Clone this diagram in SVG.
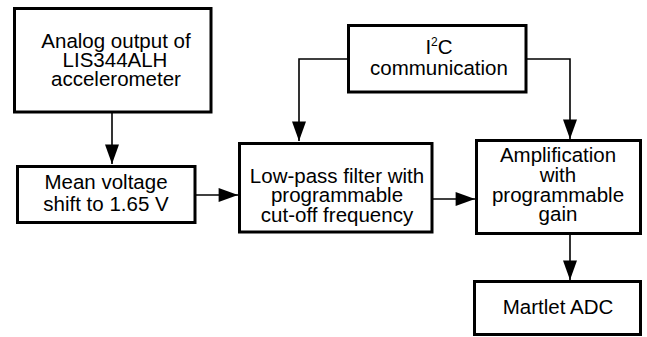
<svg xmlns="http://www.w3.org/2000/svg" width="647" height="337" viewBox="0 0 647 337">
<style>
.box{fill:#fff;stroke:#000;stroke-width:3}
.t{font-family:"Liberation Sans",Arial,sans-serif;font-size:20.5px;fill:#000;text-anchor:middle}
.c{fill:none;stroke:#000;stroke-width:1.6}
</style>
<defs>
<marker id="ah" markerUnits="userSpaceOnUse" markerWidth="20" markerHeight="14" viewBox="0 0 18 13" refX="18" refY="6.5" orient="auto">
<path d="M0,0 L18,6.5 L0,13 Z" fill="#000"/>
</marker>
</defs>
<g id="connectors">
<path class="c" d="M112,112 V164" marker-end="url(#ah)"/>
<path class="c" d="M195,195 H238" marker-end="url(#ah)"/>
<path class="c" d="M348,59 H299 V141" marker-end="url(#ah)"/>
<path class="c" d="M526,59 H570 V139" marker-end="url(#ah)"/>
<path class="c" d="M432,199 H475" marker-end="url(#ah)"/>
<path class="c" d="M570,233 V280" marker-end="url(#ah)"/>
</g>
<g id="analog">
<rect class="box" x="14.5" y="8.5" width="196.5" height="103.5"/>
<text class="t" x="116" y="48">Analog output of</text>
<text class="t" x="115" y="67">LIS344ALH</text>
<text class="t" x="116" y="86">accelerometer</text>
</g>
<g id="mean">
<rect class="box" x="17.5" y="166.5" width="177.5" height="56"/>
<text class="t" x="106" y="189">Mean voltage</text>
<text class="t" x="106" y="211">shift to 1.65 V</text>
</g>
<g id="i2c">
<rect class="box" x="348.5" y="25.5" width="177.5" height="66.5"/>
<text class="t" x="439" y="54">I<tspan font-size="12" dy="-8">2</tspan><tspan dy="8">C</tspan></text>
<text class="t" x="439" y="75">communication</text>
</g>
<g id="lowpass">
<rect class="box" x="239.5" y="143.5" width="192.5" height="88.5"/>
<text class="t" x="337" y="183">Low-pass filter with</text>
<text class="t" x="337" y="202">programmable</text>
<text class="t" x="337" y="222">cut-off frequency</text>
</g>
<g id="amp">
<rect class="box" x="476.5" y="140.5" width="164" height="93"/>
<text class="t" x="558" y="162">Amplification</text>
<text class="t" x="558" y="182">with</text>
<text class="t" x="558" y="202">programmable</text>
<text class="t" x="558" y="221">gain</text>
</g>
<g id="martlet">
<rect class="box" x="474.5" y="281.5" width="166" height="53"/>
<text class="t" x="558" y="314">Martlet ADC</text>
</g>
</svg>
